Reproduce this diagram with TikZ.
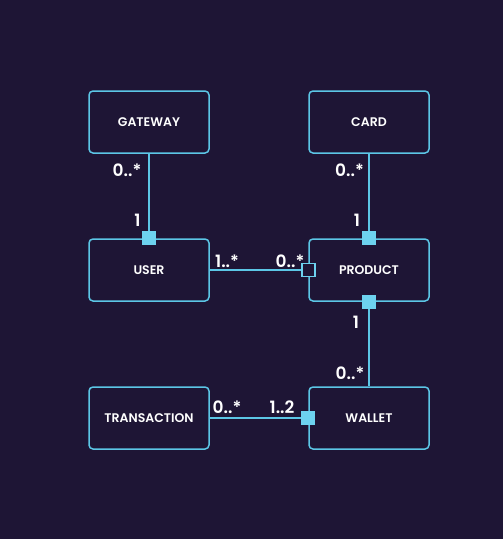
\documentclass[tikz,border=0pt]{standalone}
\usepackage{fontspec}
\setmainfont{Poppins}[BoldFont={* SemiBold}]
\definecolor{bg}{HTML}{1E1535}
\definecolor{ln}{HTML}{5CC6E6}
\definecolor{sq}{HTML}{6DD2EF}
\begin{document}
\begin{tikzpicture}[x=1pt,y=-1pt,
  box/.style={draw=ln, line width=1.5pt, rounded corners=4pt, minimum width=120pt, minimum height=62pt, inner sep=0pt, text=white, font=\bfseries\fontsize{12.5}{14}\selectfont},
  conn/.style={draw=ln, line width=2pt},
  sqf/.style={fill=sq, draw=none, minimum size=14pt, inner sep=0pt},
  sqh/.style={fill=bg, draw=sq, line width=1.8pt, minimum size=13pt, inner sep=0pt},
  lbl/.style={text=white, inner sep=0pt, font=\bfseries\fontsize{17}{19}\selectfont}]
\fill[bg] (0,0) rectangle (503,539);
\useasboundingbox (0,0) rectangle (503,539);
\node[box] (gw) at (149,122) {GATEWAY};
\node[box] (card) at (369,122) {CARD};
\node[box] (user) at (149,270) {USER};
\node[box] (prod) at (369,270) {PRODUCT};
\node[box] (trans) at (149,418) {TRANSACTION};
\node[box] (wal) at (369,418) {WALLET};
\draw[conn] (gw.south) -- (user.north);
\draw[conn] (card.south) -- (prod.north);
\draw[conn] (user.east) -- (prod.west);
\draw[conn] (prod.south) -- (wal.north);
\draw[conn] (trans.east) -- (wal.west);
\node[sqf] (s1) at (user.north) {};
\node[sqf] (s2) at (prod.north) {};
\node[sqh] (s3) at (prod.west) {};
\node[sqf] (s4) at (prod.south) {};
\node[sqf] (s5) at (wal.west) {};
\node[lbl] (l1) at (127,170) {0..*};
\node[lbl] (l2) at (137.5,220) {1};
\node[lbl] (l3) at (349.5,170) {0..*};
\node[lbl] (l4) at (357,220) {1};
\node[lbl] (l5) at (227,261) {1..*};
\node[lbl] (l6) at (290,261) {0..*};
\node[lbl] (l7) at (356,322) {1};
\node[lbl] (l8) at (350,373) {0..*};
\node[lbl] (l9) at (227,407) {0..*};
\node[lbl] (l10) at (282,407) {1..2};
\end{tikzpicture}
\end{document}
